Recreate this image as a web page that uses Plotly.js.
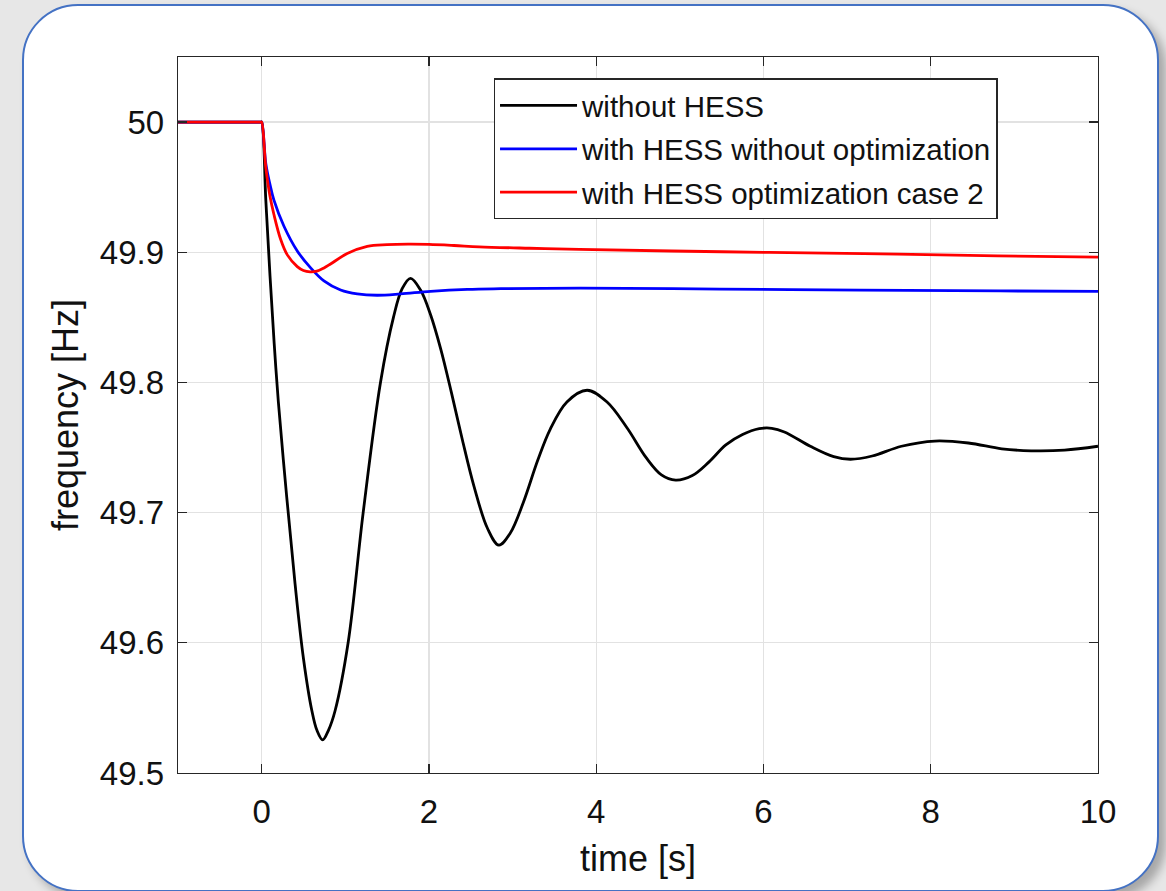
<!DOCTYPE html>
<html>
<head>
<meta charset="utf-8">
<script src="https://cdn.plot.ly/plotly-3.0.1.min.js"></script>
<style>
  html, body { margin: 0; padding: 0; width: 1166px; height: 891px; overflow: hidden; background: #e7e7e7; }
  #frame { position: absolute; left: 22px; top: 4px; width: 1133px; height: 884px;
           border: 2px solid #4472c4; border-radius: 56px; background: #ffffff;
           box-shadow: 7px 7px 10px rgba(0,0,0,0.28); }
  #chart { position: absolute; left: 0; top: 0; width: 1166px; height: 891px; }
</style>
</head>
<body>
<div id="frame"></div>
<div id="chart"></div>
<script>
// ---- data (time [s], frequency [Hz]) ----
const seriesNames = ["without HESS", "with HESS without optimization", "with HESS optimization case 2"];

const tBlack = [-1, -0.01, 0, 0.05, 0.1, 0.15, 0.2, 0.3, 0.4, 0.5, 0.6, 0.66, 0.73, 0.80, 0.879, 1.034, 1.214, 1.421, 1.576, 1.68, 1.78, 1.90, 2.02, 2.14, 2.27, 2.40, 2.54, 2.70, 2.836, 2.97, 3.13, 3.30, 3.45, 3.65, 3.891, 4.13, 4.37, 4.60, 4.78, 4.95, 5.15, 5.35, 5.55, 5.75, 5.95, 6.10, 6.25, 6.56, 6.84, 7.04, 7.30, 7.65, 8.05, 8.45, 8.85, 9.20, 9.60, 10];
const fBlack = [50, 50, 50, 49.94, 49.882, 49.83, 49.785, 49.712, 49.645, 49.588, 49.548, 49.533, 49.5255, 49.533, 49.548, 49.60, 49.70, 49.80, 49.85, 49.872, 49.880, 49.871, 49.852, 49.826, 49.792, 49.756, 49.720, 49.688, 49.675, 49.684, 49.708, 49.740, 49.764, 49.785, 49.794, 49.785, 49.765, 49.742, 49.729, 49.725, 49.7285, 49.739, 49.752, 49.760, 49.7645, 49.7648, 49.762, 49.751, 49.743, 49.741, 49.7435, 49.751, 49.755, 49.7535, 49.749, 49.7475, 49.748, 49.751];

const tBlue = [-1, -0.01, 0, 0.05, 0.1, 0.147, 0.267, 0.426, 0.586, 0.745, 0.944, 1.143, 1.38, 1.66, 2.02, 2.46, 2.86, 3.81, 5.48, 7.16, 8.83, 10];
const fBlue = [50, 50, 50, 49.968, 49.952, 49.940, 49.920, 49.901, 49.888, 49.878, 49.871, 49.868, 49.867, 49.868, 49.870, 49.8715, 49.872, 49.8725, 49.8717, 49.871, 49.8703, 49.870];

const tRed = [-1, -0.01, 0, 0.05, 0.1, 0.147, 0.227, 0.307, 0.426, 0.5, 0.58, 0.66, 0.745, 0.824, 1.023, 1.262, 1.5, 1.75, 2.0, 2.3, 2.6, 3.2, 3.8, 5.5, 7.2, 8.8, 10];
const fRed = [50, 50, 50, 49.965, 49.943, 49.929, 49.910, 49.898, 49.889, 49.886, 49.885, 49.8855, 49.888, 49.891, 49.899, 49.9045, 49.9058, 49.9062, 49.906, 49.9052, 49.9042, 49.9031, 49.9022, 49.9004, 49.899, 49.8972, 49.8963];

const xTickVals = [0, 2, 4, 6, 8, 10];
const xTickText = ["0", "2", "4", "6", "8", "10"];
const yTickVals = [49.5, 49.6, 49.7, 49.8, 49.9, 50];
const yTickText = ["49.5", "49.6", "49.7", "49.8", "49.9", "50"];

const colors = ["#000000", "#0000ff", "#ff0000"];

const FONT = "Liberation Sans, Arial, Helvetica, sans-serif";
const INK = "#262626";

const xs = [tBlack, tBlue, tRed];
const ys = [fBlack, fBlue, fRed];
const traces = seriesNames.map((n, i) => ({
  type: "scatter", mode: "lines", name: n, x: xs[i], y: ys[i],
  legendgroup: "g" + i,
  line: { color: colors[i], width: 2.8, shape: "spline", smoothing: 1 }
}));

const axisCommon = {
  ticks: "inside", ticklen: 9, tickwidth: 1.3, tickcolor: INK,
  showline: true, linecolor: INK, linewidth: 1.3, mirror: "ticks",
  showgrid: true, gridcolor: "#e2e2e2", gridwidth: 1.2, zeroline: false,
  tickfont: { family: FONT, size: 33, color: "#111111" },
  fixedrange: true
};

const layout = {
  width: 1166, height: 891,
  margin: { l: 178, r: 68, t: 57, b: 118 },
  paper_bgcolor: "rgba(0,0,0,0)", plot_bgcolor: "#ffffff",
  showlegend: true,
  legend: {
    x: 0.891, xanchor: "right", y: 0.970, yanchor: "top",
    bgcolor: "#ffffff", bordercolor: INK, borderwidth: 1.3,
    font: { family: FONT, size: 29.5, color: "#111111" },
    traceorder: "grouped", tracegroupgap: 2, itemwidth: 77
  },
  xaxis: Object.assign({}, axisCommon, {
    range: [-1, 10], tickvals: xTickVals, ticktext: xTickText,
    ticklabelstandoff: 9,
    title: { text: "time [s]", font: { family: FONT, size: 36, color: "#111111" }, standoff: 17 }
  }),
  yaxis: Object.assign({}, axisCommon, {
    range: [49.5, 50.05], tickvals: yTickVals, ticktext: yTickText,
    ticklabelstandoff: 6,
    title: { text: "frequency [Hz]", font: { family: FONT, size: 36, color: "#111111" }, standoff: 10 }
  })
};

Plotly.newPlot("chart", traces, layout, { displayModeBar: false, staticPlot: true });
</script>
</body>
</html>
